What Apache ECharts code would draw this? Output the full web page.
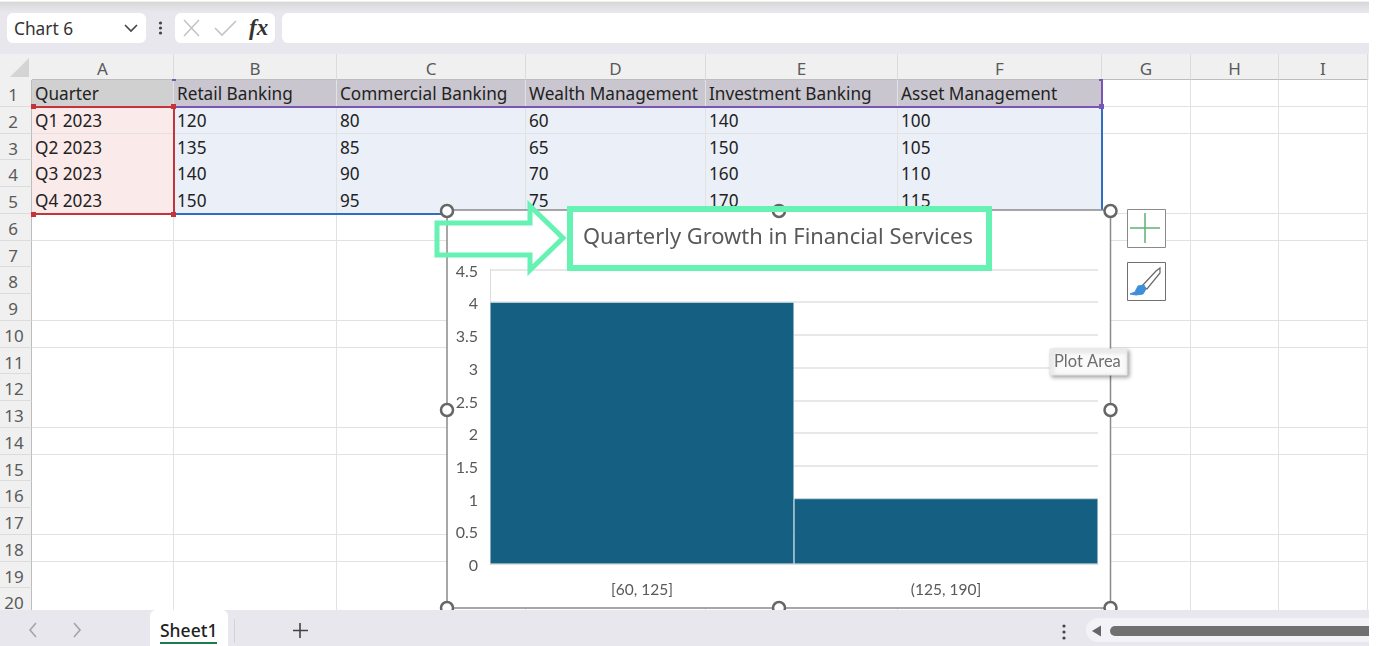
<!DOCTYPE html>
<html>
<head>
<meta charset="UTF-8">
<title>Quarterly Growth in Financial Services</title>
<script src="https://cdn.jsdelivr.net/npm/echarts@6/dist/echarts.min.js"></script>
<style>
html,body{margin:0;padding:0;background:#fff;overflow:hidden}
body{width:1393px;height:646px;position:relative;font-family:"Noto Sans",sans-serif}
.abs{position:absolute;box-sizing:border-box}
.cell{position:absolute;box-sizing:border-box;font-size:17.200px;line-height:28px;color:#222;padding-left:3px;white-space:nowrap;overflow:hidden;border-right:1px solid #e2e2e2;border-bottom:1px solid #e2e2e2}
.hd{position:absolute;box-sizing:border-box;font-size:17px;color:#5a5a5a;text-align:center;background:#f0f0f0;white-space:nowrap}
#main{position:absolute;left:0;top:0;width:1393px;height:646px;z-index:3}
#bottom{position:absolute;left:0;top:610px;width:1369px;height:36px;background:#e9e7ee;z-index:4}
</style>
</head>
<body>
<div id="sheet"></div>
<div id="main"></div>
<div id="bottom"></div>

<script type="text/javascript">
// sheet contents
var headers=['Quarter','Retail Banking','Commercial Banking','Wealth Management','Investment Banking','Asset Management'];
var quarters=['Q1 2023','Q2 2023','Q3 2023','Q4 2023'];
var retail=[120,135,140,150];
var commercial=[80,85,90,95];
var wealth=[60,65,70,75];
var investment=[140,150,160,170];
var asset=[100,105,110,115];
var columnNames=['A','B','C','D','E','F','G','H','I'];

// histogram
var bins=['[60, 125]','(125, 190]'];
var counts=[4,1];
var chartTitle='Quarterly Growth in Financial Services';

// sheet layout
var colX=[32,174,337,526,706,898,1102,1191,1279,1368];
var rowTop=80, rowH=26.75, rowCount=20;

var sheet=document.getElementById('sheet');
function div(cls,l,t,w,h,css,txt){
  var d=document.createElement('div');
  d.className=cls;
  d.style.cssText='left:'+l+'px;top:'+t+'px;width:'+w+'px;height:'+h+'px;'+(css||'');
  if(txt!==undefined)d.textContent=txt;
  sheet.appendChild(d);
  return d;
}

// top chrome
div('abs',0,0,1369,54,'background:#e9e7ee');
div('abs',0,0,1369,12,'background:linear-gradient(#fff 0,#fff 8%,#d8d8d8 20%,#e9e7ee 100%)');
div('abs',7,13,139,30,'background:#fff;border-radius:6px;font-size:17.300px;line-height:31px;padding-left:7px;color:#333','Chart 6');
div('abs',175,13,100,30,'background:#fff;border-radius:6px');
div('abs',282,13,1087,30,'background:#fff;border-radius:6px 0 0 6px');
div('abs',249,12,26,30,'font:italic bold 23px "Liberation Serif",serif;line-height:31px;color:#333','fx');
var chrome=document.createElementNS('http://www.w3.org/2000/svg','svg');
chrome.setAttribute('width','300');chrome.setAttribute('height','54');
chrome.setAttribute('style','position:absolute;left:0;top:0');
chrome.innerHTML='<path d="M125 25l6 6 6-6" fill="none" stroke="#444" stroke-width="1.6"/>'
 +'<circle cx="160.500" cy="23" r="1.600" fill="#444"/><circle cx="160.500" cy="28" r="1.600" fill="#444"/><circle cx="160.500" cy="33" r="1.600" fill="#444"/>'
 +'<path d="M184 20l15 16M199 20l-15 16" stroke="#c4c4c4" stroke-width="1.600"/>'
 +'<path d="M215 28l7 7 14-14" fill="none" stroke="#c4c4c4" stroke-width="1.600"/>';
sheet.appendChild(chrome);

// column and row headers
div('abs',0,54,1369,26,'background:#f0f0f0');
div('abs',10,58,19,19,'background:#d4d4d4;clip-path:polygon(100% 0,100% 100%,0 100%)');
for(var c=0;c<columnNames.length;c++){
  div('hd',colX[c],54,colX[c+1]-colX[c],26,'line-height:29px;border-right:1px solid #dcdcdc;border-bottom:1px solid #bdbdbd',columnNames[c]);
}
for(var r=0;r<rowCount;r++){
  var y=rowTop+rowH*r;
  div('hd',0,y,32,rowH,'line-height:29px;padding-left:0;text-align:center;border-right:1px solid #bdbdbd;border-bottom:1px solid #dcdcdc;text-indent:'+(r<9?'-5px':'-3px'),String(r+1));
}

// cells
var table=[quarters,retail,commercial,wealth,investment,asset];
for(var r=0;r<rowCount;r++){
  for(var c=0;c<columnNames.length;c++){
    var bg='#fff',txt='';
    if(c<headers.length){
      if(r==0){bg=c==0?'#d0d0d0':'#c9c6cf';txt=headers[c];}
      else if(r<=table[c].length){bg=c==0?'#fbeaea':'#eaeff8';txt=String(table[c][r-1]);}
    }
    var d=div('cell',colX[c],rowTop+rowH*r,colX[c+1]-colX[c],rowH+0.5,'background:'+bg,txt);
  }
}

// range selection borders
function range(l,t,w,h,color,sides){
  sides.forEach(function(s){
    if(s=='b')div('abs',l,t+h-1,w,2,'background:'+color+';z-index:2');
    if(s=='r')div('abs',l+w-1,t,2,h,'background:'+color+';z-index:2');
  });
}
range(174,80,928,27,'#7a55b8',['b','r']);
range(174,107,928,107,'#2f6ec2',['b','r']);
range(32,107,142,107,'#c4343c',['b','r']);
div('abs',32,105.5,142,2,'background:#c4343c;z-index:2');
[[31,104,'#c4343c'],[171,104,'#c4343c'],[31,212,'#c4343c'],[171,212,'#c4343c'],[1099,104,'#7a55b8'],[172,79,'#7a55b8'],[1099,79,'#7a55b8']].forEach(function(p){
  div('abs',p[0],p[1],p[2]=='#7a55b8'&&p[1]==79?4:5,p[2]=='#7a55b8'&&p[1]==79?2:5,'z-index:2;background:'+p[2]);
});

// chart panel goes over the cells
div('abs',447,210,663,398,'background:#fff;z-index:2');

// bottom chrome
var bottom=document.getElementById('bottom');
bottom.innerHTML='<div class="abs" style="left:150px;top:0;width:78px;height:36px;background:#fff;border-radius:6px 6px 0 0"></div>'
 +'<div class="abs" style="left:160px;top:8px;font-size:17.500px;font-weight:500;color:#222;line-height:24px">Sheet1</div>'
 +'<div class="abs" style="left:160px;top:32px;width:57px;height:2px;background:#1f7a4d"></div>'
 +'<div class="abs" style="left:234px;top:9px;width:1px;height:24px;background:#d4d4d8"></div>'
 +'<div class="abs" style="left:1086px;top:8px;width:283px;height:24px;background:#f3f2f6;border-radius:12px 0 0 12px"></div>'
 +'<div class="abs" style="left:1110px;top:16px;width:259px;height:10px;background:#707070;border-radius:5px 0 0 5px"></div>'
 +'<svg class="abs" style="left:0;top:0" width="1110" height="36">'
 +'<path d="M36 14l-6 7 6 7" transform="translate(0,-1)" fill="none" stroke="#a4a4a8" stroke-width="1.600"/>'
 +'<path d="M74 13l6 7-6 7" fill="none" stroke="#a4a4a8" stroke-width="1.600"/>'
 +'<path d="M300 13v15M293 20.500h15" stroke="#444" stroke-width="1.600"/>'
 +'<circle cx="1064" cy="16" r="1.600" fill="#444"/><circle cx="1064" cy="22" r="1.600" fill="#444"/><circle cx="1064" cy="28" r="1.600" fill="#444"/>'
 +'<path d="M1092 21l9-5.500v11z" fill="#666"/></svg>';

// chart
var mychart=echarts.init(document.getElementById('main'),null,{renderer:'canvas',width:1393,height:646});

var green='#66f2b2';
var handles=[[447,211],[779,211],[1110.500,211],[447,410],[1110.500,410],[447,608],[779,608],[1110.500,608]];
var graphics=[
  {type:'rect',z:1,shape:{x:447,y:210,width:663.500,height:398},style:{fill:'none',stroke:'#8a8a8a',lineWidth:1.5}}
];
handles.forEach(function(h){
  graphics.push({type:'circle',z:2,shape:{cx:h[0],cy:h[1],r:6},style:{fill:'#fff',stroke:'#666',lineWidth:2.5}});
});
graphics.push(
  // annotation
  {type:'rect',z:5,shape:{x:570,y:209,width:419,height:59},style:{fill:'none',stroke:green,lineWidth:6}},
  {type:'polygon',z:5,shape:{points:[[437,223],[530,223],[530,206],[563,238],[530,270],[530,255],[437,255]]},style:{fill:'none',stroke:green,lineWidth:5}},
  // chart buttons
  {type:'rect',z:5,shape:{x:1127.500,y:209.500,width:38,height:38},style:{fill:'#fff',stroke:'#8a8a8a',lineWidth:1}},
  {type:'line',z:6,shape:{x1:1130,y1:228,x2:1160,y2:228},style:{stroke:'#5fb274',lineWidth:1.500}},
  {type:'line',z:6,shape:{x1:1145,y1:213,x2:1145,y2:243},style:{stroke:'#5fb274',lineWidth:1.500}},
  {type:'rect',z:5,shape:{x:1127.500,y:262.500,width:38,height:38},style:{fill:'#fff',stroke:'#707070',lineWidth:1}},
  {type:'polygon',z:6,shape:{points:[[1142,286],[1156,271],[1160,268],[1160,273],[1147,289]]},style:{fill:'#fff',stroke:'#666',lineWidth:1.200}},
  {type:'polygon',z:7,shape:{points:[[1130,294],[1135,292],[1138,286],[1144,285],[1146,289],[1143,294],[1136,295]]},style:{fill:'#3f8fd8',stroke:'#3f8fd8',lineWidth:1}},
  // hover tip
  {type:'rect',z:8,shape:{x:1050,y:349,width:77,height:26},style:{fill:'#fafafa',stroke:'#e6e6e6',lineWidth:1,shadowBlur:4,shadowColor:'rgba(0,0,0,0.35)',shadowOffsetX:2,shadowOffsetY:2}},
  {type:'text',z:9,style:{x:1054,y:353,text:'Plot Area',fill:'#6e6e6e',font:'16.500px Lato'}}
);

var option={
  animation:false,
  backgroundColor:'transparent',
  title:{
    text:chartTitle,
    left:578,
    top:222,
    textStyle:{fontFamily:'Noto Sans',fontSize:21.900,fontWeight:'normal',color:'#595959'}
  },
  grid:{left:490,top:269.500,width:608,height:294.500},
  xAxis:{
    type:'category',
    data:bins,
    axisLine:{lineStyle:{color:'#dcdcdc'}},
    axisTick:{show:false},
    axisLabel:{margin:18,fontFamily:'Lato',fontSize:15.500,color:'#595959'}
  },
  yAxis:{
    type:'value',
    min:0,
    max:4.5,
    interval:0.5,
    axisLine:{show:true,lineStyle:{color:'#dcdcdc'}},
    axisTick:{show:false},
    splitLine:{lineStyle:{color:'#e0e0e0',width:1.5}},
    axisLabel:{margin:12,verticalAlign:'top',lineHeight:4,fontFamily:'Lato',fontSize:16,color:'#595959'}
  },
  series:[{
    type:'bar',
    data:counts,
    barCategoryGap:'0%',
    itemStyle:{color:'#156082',borderColor:'#eef3f6',borderWidth:0.5}
  }],
  graphic:{elements:graphics}
};
mychart.setOption(option);
</script>
</body>
</html>
